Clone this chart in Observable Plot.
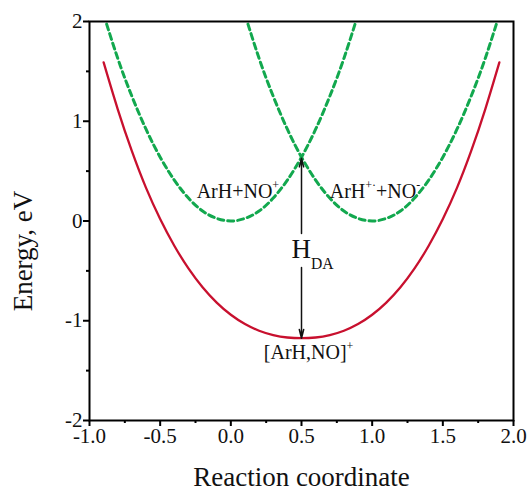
<!DOCTYPE html>
<html>
<head>
<meta charset="utf-8">
<script src="https://cdn.jsdelivr.net/npm/d3@7"></script>
<script src="https://cdn.jsdelivr.net/npm/@observablehq/plot@0.6"></script>
<style>
  html, body { margin: 0; padding: 0; background: #fff; }
</style>
</head>
<body>
<div id="chart"></div>
<script>
// Diabatic state ArH + NO+ (green dashed, minimum at q = 0)
const reactantQ = [-0.9, -0.8, -0.7, -0.6, -0.5, -0.4, -0.3, -0.2, -0.1, 0.0, 0.1, 0.2, 0.3, 0.4, 0.5, 0.6, 0.7, 0.8, 0.9];
const reactantE = [2.07, 1.63, 1.25, 0.92, 0.64, 0.41, 0.23, 0.10, 0.026, 0.0, 0.026, 0.10, 0.23, 0.41, 0.64, 0.92, 1.25, 1.63, 2.07];

// Diabatic state ArH+. + NO- (green dashed, minimum at q = 1)
const productQ = [0.1, 0.2, 0.3, 0.4, 0.5, 0.6, 0.7, 0.8, 0.9, 1.0, 1.1, 1.2, 1.3, 1.4, 1.5, 1.6, 1.7, 1.8, 1.9];
const productE = [2.07, 1.63, 1.25, 0.92, 0.64, 0.41, 0.23, 0.10, 0.026, 0.0, 0.026, 0.10, 0.23, 0.41, 0.64, 0.92, 1.25, 1.63, 2.07];

// Adiabatic ground state [ArH,NO]+ (red solid)
const complexQ = [-0.9, -0.8, -0.7, -0.6, -0.5, -0.4, -0.3, -0.2, -0.1, 0.0, 0.1, 0.2, 0.3, 0.4, 0.5,
                  0.6, 0.7, 0.8, 0.9, 1.0, 1.1, 1.2, 1.3, 1.4, 1.5, 1.6, 1.7, 1.8, 1.9];
const complexE = [1.59, 1.12, 0.70, 0.332, 0.02, -0.248, -0.475, -0.664, -0.818, -0.94, -1.033, -1.10, -1.144, -1.168, -1.175,
                  -1.168, -1.144, -1.10, -1.033, -0.94, -0.818, -0.664, -0.475, -0.248, 0.02, 0.332, 0.70, 1.12, 1.59];

// Coupling H_DA: from the diabatic crossing down to the adiabatic minimum
const crossingQ = 0.5;
const crossingE = 0.64;
const minimumE = -1.175;

// Axis ticks
const xTicks = [-1.0, -0.5, 0.0, 0.5, 1.0, 1.5, 2.0];
const xMinorTicks = [-0.75, -0.25, 0.25, 0.75, 1.25, 1.75];
const yTicks = [-2, -1, 0, 1, 2];
const yMinorTicks = [-1.5, -0.5, 0.5, 1.5];

// State labels (^{..} superscript, _{..} subscript)
const stateLabels = ["ArH+NO^{+}", "ArH^{+·}+NO^{-}", "[ArH,NO]^{+}"];
const stateLabelQ = [0.05, 1.02, 0.55];
const stateLabelE = [0.296, 0.296, -1.318];
const couplingLabel = "H_{DA}";
const couplingLabelE = -0.286;

const xTitle = "Reaction coordinate";
const yTitle = "Energy, eV";

const green = "#12a84e";
const red = "#c8102e";
const serif = "'Liberation Serif', 'Times New Roman', Times, serif";

const reactant = reactantQ.map((q, i) => ({q, e: reactantE[i]}));
const product = productQ.map((q, i) => ({q, e: productE[i]}));
const complex = complexQ.map((q, i) => ({q, e: complexE[i]}));
const labels = stateLabels.map((text, i) => ({text, q: stateLabelQ[i], e: stateLabelE[i]}));

const chart = Plot.plot({
  width: 529,
  height: 491,
  marginLeft: 89,
  marginRight: 16,
  marginTop: 21,
  marginBottom: 71,
  x: {domain: [-1, 2]},
  y: {domain: [-2, 2]},
  style: {fontFamily: serif, background: "white", color: "black", overflow: "visible"},
  marks: [
    Plot.line(complex, {x: "q", y: "e", stroke: red, strokeWidth: 2.3, curve: "natural"}),
    Plot.line(reactant, {x: "q", y: "e", stroke: green, strokeWidth: 3, strokeDasharray: "6,4", curve: "natural", clip: true}),
    Plot.line(product, {x: "q", y: "e", stroke: green, strokeWidth: 3, strokeDasharray: "6,4", curve: "natural", clip: true}),

    Plot.arrow([0], {x1: () => crossingQ, y1: () => couplingLabelE, x2: () => crossingQ, y2: () => crossingE,
      stroke: "#111", strokeWidth: 1.5, headLength: 9, headAngle: 28, insetStart: 16, insetEnd: 1}),
    Plot.arrow([0], {x1: () => crossingQ, y1: () => couplingLabelE, x2: () => crossingQ, y2: () => minimumE,
      stroke: "#111", strokeWidth: 1.5, headLength: 9, headAngle: 28, insetStart: 18, insetEnd: 0}),

    Plot.text(labels, {x: "q", y: "e", text: "text", fontSize: 20, textAnchor: "middle", lineAnchor: "middle", fill: "#111"}),
    Plot.text([couplingLabel], {x: () => crossingQ, y: () => couplingLabelE, text: d => d, fontSize: 27,
      textAnchor: "start", dx: -10, lineAnchor: "middle", fill: "#111"}),

    Plot.frame({stroke: "black", strokeWidth: 2}),
    Plot.axisX({ticks: xTicks, tickSize: 6, tickPadding: 2, strokeWidth: 2, fontSize: 21,
      tickFormat: d => d.toFixed(1), label: null, fill: "#111"}),
    Plot.axisX({ticks: xMinorTicks, tickSize: 3, strokeWidth: 2, tickFormat: () => "", label: null}),
    Plot.axisY({ticks: yTicks, tickSize: 6, tickPadding: 1, strokeWidth: 2, fontSize: 21,
      tickFormat: d => String(d), label: null, fill: "#111"}),
    Plot.axisY({ticks: yMinorTicks, tickSize: 3, strokeWidth: 2, tickFormat: () => "", label: null}),

    Plot.text([xTitle], {frameAnchor: "bottom", text: d => d, dy: 57, fontSize: 27, lineAnchor: "middle", fill: "#111"}),
    Plot.text([yTitle], {frameAnchor: "left", text: d => d, rotate: -90, textAnchor: "middle", dx: -66, dy: 30,
      fontSize: 27, lineAnchor: "middle", fill: "#111"})
  ]
});

// Turn ^{..} and _{..} markup into raised / lowered tspans
d3.select(chart).selectAll("text").each(function () {
  const s = this.textContent;
  if (!/[\^_]\{/.test(s)) return;
  const holder = this.closest("[font-size]");
  const fs = holder ? parseFloat(holder.getAttribute("font-size")) : 20;
  const parts = s.split(/([\^_]\{[^}]*\})/).filter(p => p);
  const sel = d3.select(this);
  sel.text(null);
  let shift = 0;
  for (const p of parts) {
    const m = p.match(/^([\^_])\{([^}]*)\}$/);
    const t = sel.append("tspan");
    if (m) {
      const sup = m[1] === "^";
      const off = sup ? -0.42 * fs : 0.42 * fs;
      t.attr("dy", off - shift).attr("font-size", (sup ? 0.6 : 0.58) * fs).text(m[2]);
      shift = off;
    } else {
      if (shift) t.attr("dy", -shift);
      t.text(p);
      shift = 0;
    }
  }
});

document.getElementById("chart").appendChild(chart);
</script>
</body>
</html>
